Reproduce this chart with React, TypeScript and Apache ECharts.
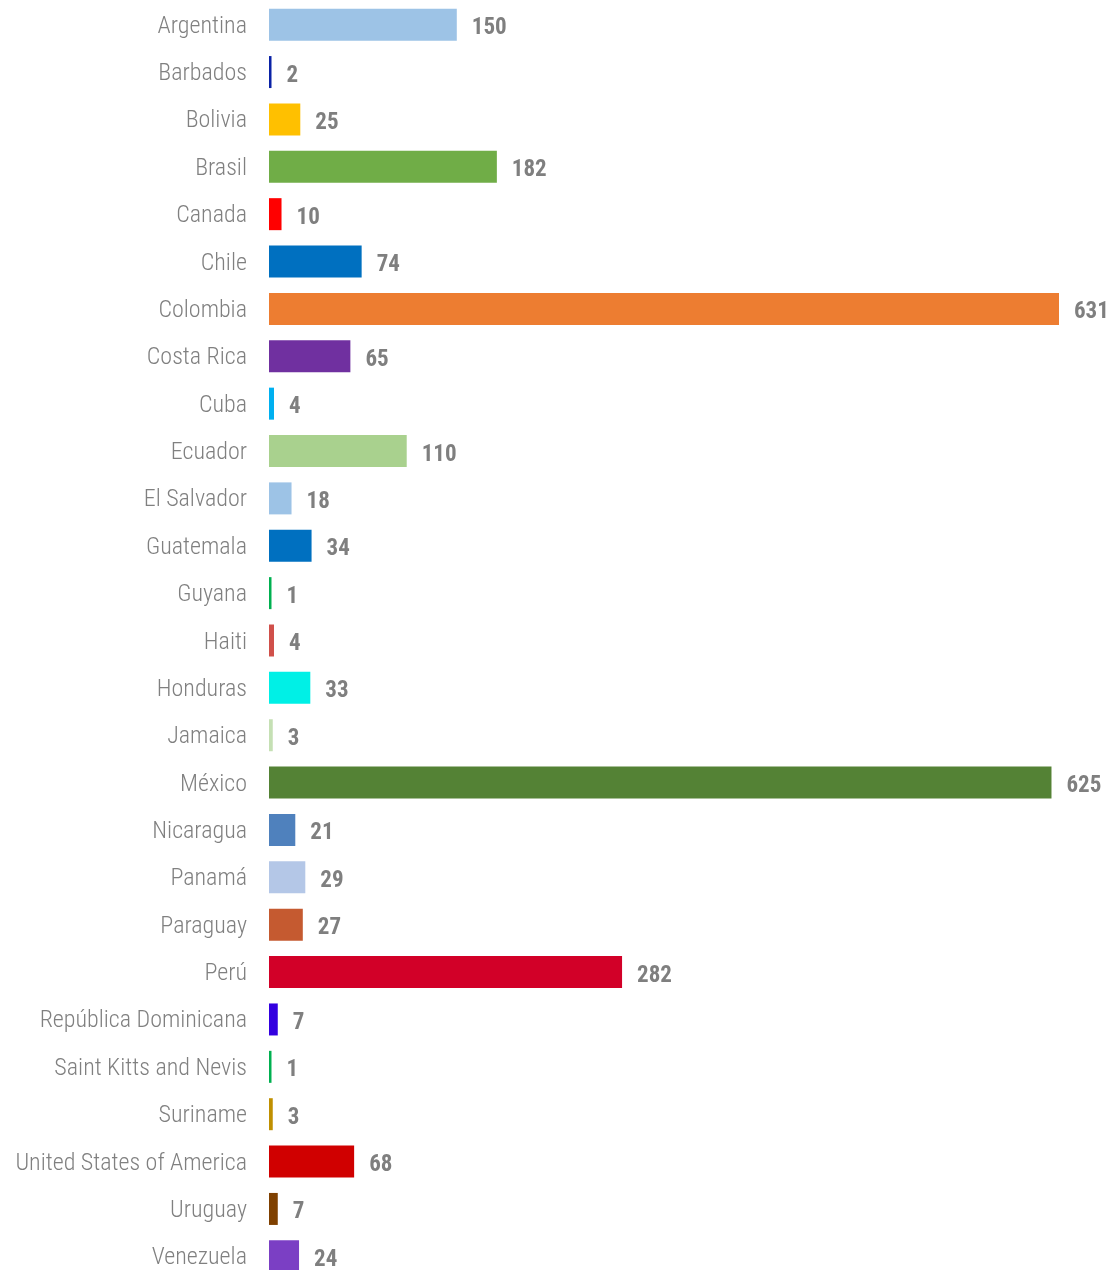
import React, { useEffect, useRef } from "react";
import * as echarts from "echarts";

const countries = [
  "Argentina", "Barbados", "Bolivia", "Brasil", "Canada", "Chile", "Colombia", "Costa Rica", "Cuba",
  "Ecuador", "El Salvador", "Guatemala", "Guyana", "Haiti", "Honduras", "Jamaica", "México", "Nicaragua",
  "Panamá", "Paraguay", "Perú", "República Dominicana", "Saint Kitts and Nevis", "Suriname",
  "United States of America", "Uruguay", "Venezuela",
];
const values = [150, 2, 25, 182, 10, 74, 631, 65, 4, 110, 18, 34, 1, 4, 33, 3, 625, 21, 29, 27, 282, 7, 1, 3, 68, 7, 24];
const colors = [
  "#9DC3E6", "#0A22A6", "#FFC000", "#70AD47", "#FF0000", "#0070C0", "#ED7D31", "#7030A0", "#00B0F0",
  "#A9D18E", "#9DC3E6", "#0070C0", "#00B050", "#D0504A", "#00F0E6", "#C5E0B4", "#548235", "#4F81BD",
  "#B4C7E7", "#C55A30", "#D20028", "#3300E0", "#00B050", "#C09000", "#D00000", "#7F4000", "#7B3FC4",
];

const FONT = "'Liberation Sans Narrow', 'Roboto Condensed', 'DejaVu Sans Condensed', 'Roboto', sans-serif";

export default function App() {
  const ref = useRef<HTMLDivElement>(null);
  useEffect(() => {
    if (!ref.current) return;
    const chart = echarts.init(ref.current, undefined, { renderer: "svg" });
    chart.setOption({
      animation: false,
      grid: { left: 269, top: 1, width: 790, height: 1279, containLabel: false },
      xAxis: {
        type: "value",
        min: 0,
        max: 631,
        show: false,
      },
      yAxis: {
        type: "category",
        inverse: true,
        data: countries,
        axisLine: { show: false },
        axisTick: { show: false },
        splitLine: { show: false },
        axisLabel: {
          color: "#808080",
          fontSize: 24,
          fontWeight: 300,
          fontFamily: FONT,
          margin: 22,
          padding: [4, 0, 0, 0],
        },
      },
      series: [
        {
          type: "bar",
          barWidth: 32,
          barMinHeight: 2.5,
          data: values.map((v, i) => ({ value: v, itemStyle: { color: colors[i] } })),
          label: {
            show: true,
            position: "right",
            distance: 15,
            offset: [0, 2],
            color: "#7F7F7F",
            fontWeight: "bold",
            fontSize: 23,
            fontFamily: FONT,
          },
        },
      ],
    });
    return () => chart.dispose();
  }, []);
  return <div ref={ref} style={{ position: "fixed", left: 0, top: 0, width: 1112, height: 1290 }} />;
}
